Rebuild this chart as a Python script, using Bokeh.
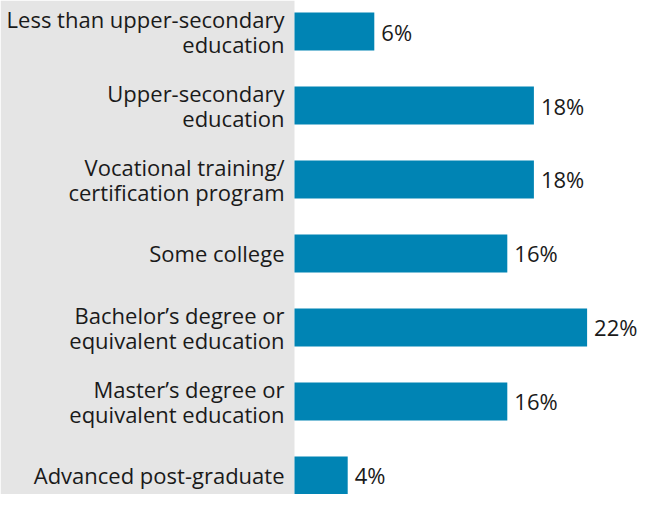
from bokeh.plotting import figure
from bokeh.models import Range1d, BoxAnnotation, ColumnDataSource
from bokeh.core.properties import value
from bokeh.embed import file_html
from bokeh.resources import INLINE

categories = [
    "Less than upper-secondary\neducation",
    "Upper-secondary\neducation",
    "Vocational training/\ncertification program",
    "Some college",
    "Bachelor\u2019s degree or\nequivalent education",
    "Master\u2019s degree or\nequivalent education",
    "Advanced post-graduate",
]
values = [6, 18, 18, 16, 22, 16, 4]
value_labels = [f"{v}%" for v in values]

positions = list(range(len(categories)))
src = ColumnDataSource(dict(y=positions, v=values, cat=categories, lab=value_labels,
                            zero=[0] * len(values)))

FONT = "Open Sans"
p = figure(width=641, height=494, output_backend="svg", toolbar_location=None,
           x_range=Range1d(-22.105, 26.09), y_range=Range1d(6.257, -0.419),
           min_border=0, min_border_left=0, min_border_right=0,
           min_border_top=0, min_border_bottom=0)
p.axis.visible = False
p.grid.visible = False
p.outline_line_color = None
p.background_fill_color = "white"
p.border_fill_color = "white"

p.add_layout(BoxAnnotation(right=0, fill_color="#E5E5E5", fill_alpha=1.0, line_color=None,
                           level="underlay"))

p.hbar(y="y", left=0, right="v", height=0.514, source=src,
       fill_color="#0084B4", line_color=None)

p.text(x="zero", y="y", text="cat", source=src, x_offset=-10,
       text_align="right", text_baseline="middle", text_font=value(FONT),
       text_font_size="22px", text_color="#1a1a1a", text_line_height=0.82)

p.text(x="v", y="y", text="lab", source=src, x_offset=7,
       text_align="left", text_baseline="middle", text_font=value(FONT),
       text_font_size="22px", text_color="#1a1a1a")

open("out.html", "w").write(file_html(p, INLINE))
